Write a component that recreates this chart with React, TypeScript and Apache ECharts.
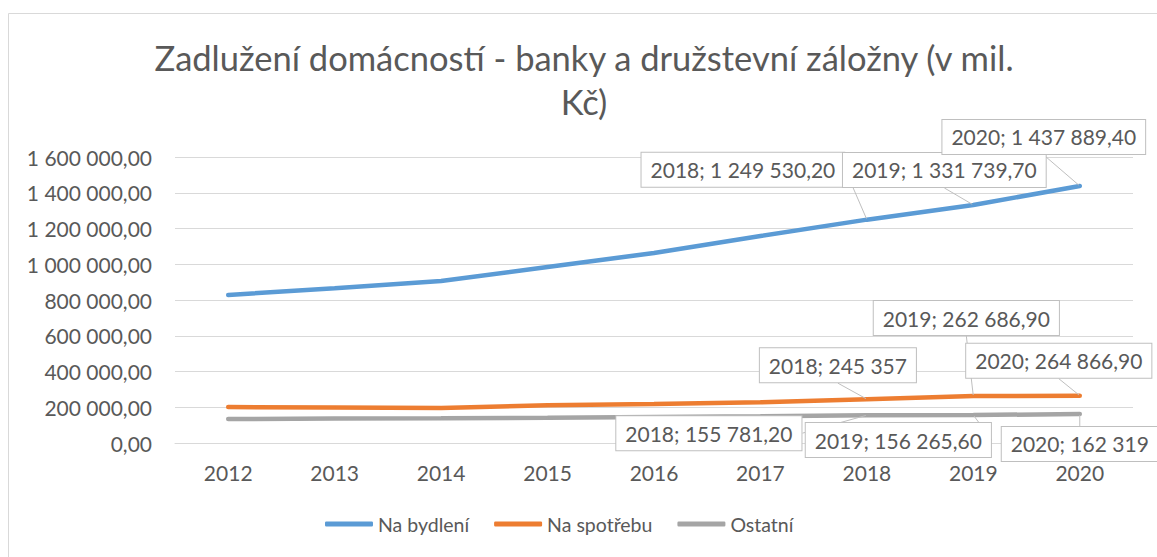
import React, { useEffect, useRef } from "react";
import * as echarts from "echarts";

const years = ["2012", "2013", "2014", "2015", "2016", "2017", "2018", "2019", "2020"];
const housing = [828000, 866000, 906000, 985000, 1063000, 1158000, 1249530.2, 1331739.7, 1437889.4];
const consumer = [201000, 199000, 196000, 211000, 218000, 228000, 245357, 262686.9, 264866.9];
const other = [134000, 137000, 138000, 141000, 146000, 150000, 155781.2, 156265.6, 162319];
const seriesNames = ["Na bydlení", "Na spotřebu", "Ostatní"];
const colors = ["#5B9BD5", "#ED7D31", "#A5A5A5"];
const labelledIdx = [6, 7, 8];
// label offsets [dx, dy] relative to point, per series & labelled point
const labelOffsets = [
  [[-124, -50], [-29, -35], [-36, -49]],
  [[-29, -34], [-7, -78], [-21, -35]],
  [[-158, 18], [-75, 25], [0, 30]],
];

const FONT = "Lato, 'Open Sans', sans-serif";
const TXT = "#595959";
const FS = 21;

function czNum(v: number, forceDec: boolean) {
  const dec = forceDec || Math.round(v) !== v;
  const fixed = dec ? v.toFixed(2) : String(Math.round(v));
  const [i, d] = fixed.split(".");
  const intPart = i.replace(/\B(?=(\d{3})+(?!\d))/g, " ");
  return d !== undefined ? intPart + "," + d : intPart;
}

export default function App() {
  const ref = useRef<HTMLDivElement>(null);
  useEffect(() => {
    const chart = echarts.init(ref.current!, undefined, { renderer: "svg" });
    const all = [housing, consumer, other];
    chart.setOption({
      animation: false,
      backgroundColor: "#ffffff",
      textStyle: { fontFamily: FONT },
      graphic: [
        {
          type: "rect",
          shape: { x: 8.5, y: 13.5, width: 1200, height: 600 },
          style: { fill: "none", stroke: "#d9d9d9", lineWidth: 1 },
          silent: true,
        },
      ],
      title: {
        text: "Zadlužení domácností - banky a družstevní záložny (v mil.\nKč)",
        left: 579,
        textAlign: "center",
        top: 30,
        textStyle: { fontFamily: FONT, fontSize: 34.5, fontWeight: "normal", color: TXT, lineHeight: 44 },
      },
      legend: {
        bottom: 18,
        left: 320,
        icon: "roundRect",
        itemWidth: 48,
        itemHeight: 5,
        itemGap: 25,
        textStyle: { fontFamily: FONT, fontSize: 19.5, color: TXT },
        data: seriesNames,
      },
      grid: { left: 175, right: 24, top: 157, bottom: 114, containLabel: false },
      xAxis: {
        type: "category",
        data: years,
        boundaryGap: true,
        axisTick: { show: false },
        axisLine: { lineStyle: { color: "#d9d9d9", width: 1 } },
        axisLabel: { color: TXT, fontFamily: FONT, fontSize: FS, margin: 19 },
      },
      yAxis: {
        type: "value",
        min: 0,
        max: 1600000,
        interval: 200000,
        axisLine: { show: false },
        axisTick: { show: false },
        splitLine: { lineStyle: { color: "#d9d9d9", width: 1 } },
        axisLabel: {
          color: TXT,
          fontFamily: FONT,
          fontSize: FS,
          margin: 23,
          formatter: (v: number) => czNum(v, true),
        },
      },
      series: all.map((vals, si) => ({
        name: seriesNames[si],
        type: "line",
        data: vals.map((v, i) => {
          const k = labelledIdx.indexOf(i);
          return k >= 0 ? { value: v, label: { show: true } } : { value: v };
        }),
        symbol: "circle",
        symbolSize: 2,
        showSymbol: true,
        color: colors[si],
        lineStyle: { width: 4.5, color: colors[si], cap: "round" },
        itemStyle: { color: colors[si] },
        label: {
          show: false,
          position: "inside",
          formatter: (p: any) => years[p.dataIndex] + "; " + czNum(p.value, false),
          fontFamily: FONT,
          fontSize: FS,
          color: TXT,
          backgroundColor: "#ffffff",
          borderColor: "#bfbfbf",
          borderWidth: 1,
          padding: [7, 9, 6, 9],
        },
        labelLine: { show: true, lineStyle: { color: "#bfbfbf", width: 1 } },
        labelLayout: (p: any) => {
          const k = labelledIdx.indexOf(p.dataIndex);
          if (k < 0) return {};
          const [dx, dy] = labelOffsets[p.seriesIndex][k];
          return { dx, dy };
        },
        z: 3 - si,
      })),
    });
    return () => chart.dispose();
  }, []);
  return (
    <div
      ref={ref}
      style={{ position: "fixed", left: 0, top: 0, width: 1157, height: 557 }}
    />
  );
}
